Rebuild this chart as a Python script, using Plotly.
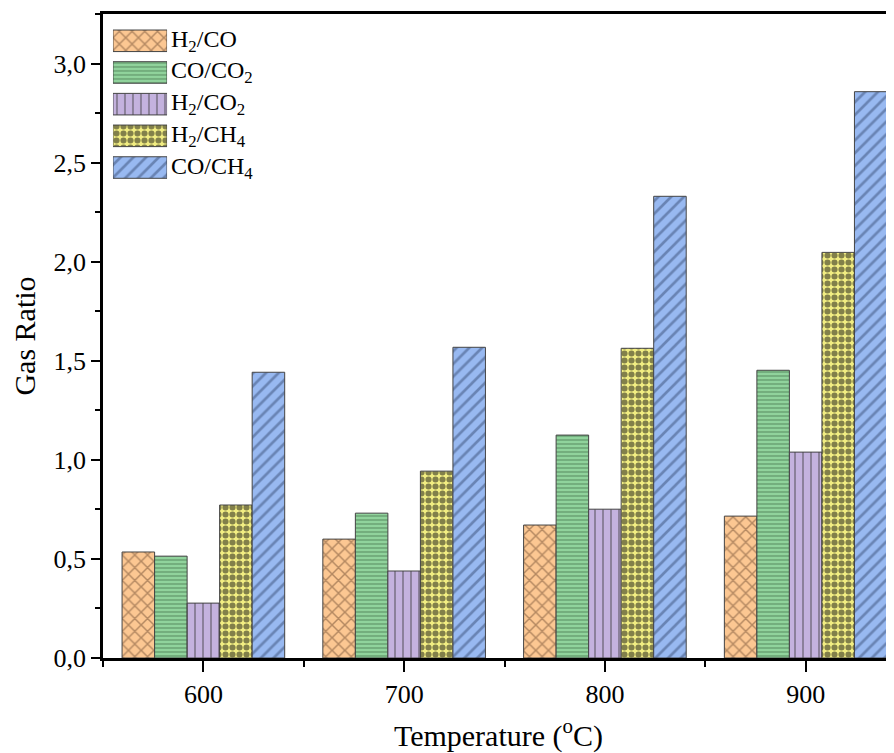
import plotly.graph_objects as go

temps = [600, 700, 800, 900]
series_names = ["H<sub>2</sub>/CO", "CO/CO<sub>2</sub>", "H<sub>2</sub>/CO<sub>2</sub>",
                "H<sub>2</sub>/CH<sub>4</sub>", "CO/CH<sub>4</sub>"]
h2_co = [0.535, 0.600, 0.671, 0.716]
co_co2 = [0.514, 0.731, 1.125, 1.452]
h2_co2 = [0.277, 0.439, 0.751, 1.039]
h2_ch4 = [0.772, 0.943, 1.563, 2.047]
co_ch4 = [1.442, 1.568, 2.330, 2.858]
values = [h2_co, co_co2, h2_co2, h2_ch4, co_ch4]

colors = ["#FCC792", "#90D39C", "#C4B2DE", "#F2EE82", "#98B9F1"]
pat_fg = ["#6b4a30", "#2f5a35", "#333333", "#111111", "#3a4f78"]
shapes = ["x", "-", "|", ".", "/"]
sol = [0.3, 0.3, 0.2, 0.6, 0.3]
psize = [9, 4, 8, 7, 9]

FONT = "Liberation Serif"
fig = go.Figure()
bw = 16.2
offsets = [-2, -1, 0, 1, 2]
leg_dom = [0.737, 0.983]
for i, name in enumerate(series_names):
    mk = dict(color=colors[i], line=dict(color="#444444", width=1),
              pattern=dict(shape=shapes[i], fgcolor=pat_fg[i], size=psize[i],
                           solidity=sol[i], fillmode="overlay"))
    fig.add_trace(go.Bar(
        x=temps, y=values[i], name=name, width=bw,
        offset=offsets[i] * bw - bw / 2, marker=mk, showlegend=False))
    # legend swatch in inset axes
    fig.add_trace(go.Bar(
        x=[1], y=[i], orientation="h", xaxis="x2", yaxis="y2", width=0.68,
        marker=mk, showlegend=False, hoverinfo="skip"))
    yc = leg_dom[1] - (i + 0.5) / 5 * (leg_dom[1] - leg_dom[0])
    fig.add_annotation(x=0.084, y=yc, xref="paper", yref="paper", text=name, showarrow=False,
                       xanchor="left", yanchor="middle",
                       font=dict(family=FONT, size=24, color="black"))

hidden = dict(showticklabels=False, showgrid=False, zeroline=False, showline=False,
              ticks="", tickvals=[], fixedrange=True)
fig.update_layout(
    width=886, height=745,
    margin=dict(l=95, r=0, t=6, b=95),
    plot_bgcolor="white", paper_bgcolor="white",
    separators=",.",
    barmode="overlay",
    font=dict(family=FONT, color="black"),
    xaxis=dict(range=[550, 944], tickvals=temps, ticks="outside", ticklen=11, tickwidth=2,
               tickcolor="black", showline=True, linewidth=2.5, linecolor="black",
               mirror=True, showgrid=False, zeroline=False,
               tickfont=dict(size=26, family=FONT),
               minor=dict(tickvals=[550, 650, 750, 850], ticks="outside", ticklen=6,
                          tickwidth=2, tickcolor="black"),
               title=dict(text="Temperature (<sup>o</sup>C)", font=dict(size=30, family=FONT),
                          standoff=20)),
    yaxis=dict(range=[0, 3.25], tickvals=[0, 0.5, 1.0, 1.5, 2.0, 2.5, 3.0], tickformat=".1f",
               ticks="outside", ticklen=9, tickwidth=2, tickcolor="black",
               showline=True, linewidth=2.5, linecolor="black", showgrid=False, zeroline=False,
               tickfont=dict(size=26, family=FONT),
               minor=dict(tickvals=[0.25, 0.75, 1.25, 1.75, 2.25, 2.75, 3.25], ticks="outside",
                          ticklen=5, tickwidth=2, tickcolor="black"),
               title=dict(text="Gas Ratio", font=dict(size=30, family=FONT), standoff=10)),
    xaxis2=dict(domain=[0.0126, 0.081], range=[0, 1], anchor="y2", **hidden),
    yaxis2=dict(domain=leg_dom, range=[4.5, -0.5], anchor="x2", **hidden),
)

fig.write_html("out.html")
